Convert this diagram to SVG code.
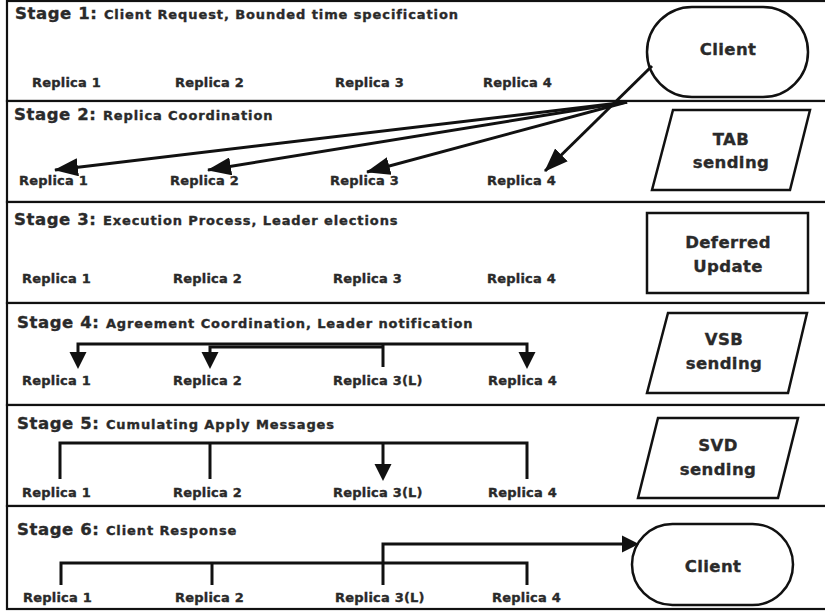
<svg xmlns="http://www.w3.org/2000/svg" width="825" height="612" viewBox="0 0 825 612">
  <style>
    .stage { fill: #ffffff; stroke: #111111; stroke-width: 2.2; }
    .shape { fill: #ffffff; stroke: #111111; stroke-width: 2.5; }
    .wire { fill: none; stroke: #111111; stroke-width: 3; }
    .head { fill: #111111; }
    text { font-family: "DejaVu Sans", "Liberation Sans", sans-serif; font-weight: bold; fill: #2a2a2a; stroke: #2a2a2a; stroke-width: 0.35px; }
    .st { font-size: 16.5px; letter-spacing: 0.6px; }
    .sub { font-size: 13px; letter-spacing: 0.9px; }
    .rep { font-size: 13px; letter-spacing: 0.2px; }
    .lbl { font-size: 16.5px; text-anchor: middle; letter-spacing: 0.4px; }
  </style>
  <defs>
    <marker id="arr" viewBox="0 0 24 18" refX="23" refY="9" markerWidth="24" markerHeight="18" markerUnits="userSpaceOnUse" orient="auto">
      <path d="M0,0 L24,9 L0,18 z" fill="#111111"/>
    </marker>
    <path id="down" d="M-8.5,-17 L8.5,-17 L0,0 z"/>
    <path id="right" d="M-17,-8.5 L0,0 L-17,8.5 z"/>
  </defs>

  <!-- stage bands -->
  <g id="stage1">
    <rect class="stage" x="7" y="1" width="830" height="100"/>
    <text x="15" y="19"><tspan class="st">Stage 1: </tspan><tspan class="sub">Client Request, Bounded time specification</tspan></text>
    <text class="rep" x="32" y="87">Replica 1</text>
    <text class="rep" x="175" y="87">Replica 2</text>
    <text class="rep" x="335" y="87">Replica 3</text>
    <text class="rep" x="483" y="87">Replica 4</text>
  </g>
  <g id="stage2">
    <rect class="stage" x="7" y="101" width="830" height="101"/>
    <text x="14" y="120"><tspan class="st">Stage 2: </tspan><tspan class="sub">Replica Coordination</tspan></text>
    <text class="rep" x="19" y="185">Replica 1</text>
    <text class="rep" x="170" y="185">Replica 2</text>
    <text class="rep" x="330" y="185">Replica 3</text>
    <text class="rep" x="487" y="185">Replica 4</text>
  </g>
  <g id="stage3">
    <rect class="stage" x="7" y="202" width="830" height="101"/>
    <text x="14" y="225"><tspan class="st">Stage 3: </tspan><tspan class="sub">Execution Process, Leader elections</tspan></text>
    <text class="rep" x="22" y="283">Replica 1</text>
    <text class="rep" x="173" y="283">Replica 2</text>
    <text class="rep" x="333" y="283">Replica 3</text>
    <text class="rep" x="487" y="283">Replica 4</text>
  </g>
  <g id="stage4">
    <rect class="stage" x="7" y="303" width="830" height="102"/>
    <text x="17" y="328"><tspan class="st">Stage 4: </tspan><tspan class="sub">Agreement Coordination, Leader notification</tspan></text>
    <text class="rep" x="22" y="385">Replica 1</text>
    <text class="rep" x="173" y="385">Replica 2</text>
    <text class="rep" x="333" y="385">Replica 3(L)</text>
    <text class="rep" x="488" y="385">Replica 4</text>
  </g>
  <g id="stage5">
    <rect class="stage" x="7" y="405" width="830" height="101"/>
    <text x="17" y="429"><tspan class="st">Stage 5: </tspan><tspan class="sub">Cumulating Apply Messages</tspan></text>
    <text class="rep" x="22" y="497">Replica 1</text>
    <text class="rep" x="173" y="497">Replica 2</text>
    <text class="rep" x="333" y="497">Replica 3(L)</text>
    <text class="rep" x="488" y="497">Replica 4</text>
  </g>
  <g id="stage6">
    <rect class="stage" x="7" y="506" width="830" height="103"/>
    <text x="17" y="535"><tspan class="st">Stage 6: </tspan><tspan class="sub">Client Response</tspan></text>
    <text class="rep" x="23" y="602">Replica 1</text>
    <text class="rep" x="175" y="602">Replica 2</text>
    <text class="rep" x="335" y="602">Replica 3(L)</text>
    <text class="rep" x="492" y="602">Replica 4</text>
  </g>

  <!-- process symbols on the right -->
  <g id="client-top">
    <rect class="shape" x="647" y="7" width="161" height="90" rx="45" ry="45"/>
    <text class="lbl" x="728" y="55">Client</text>
  </g>
  <g id="tab-sending">
    <polygon class="shape" points="673,110 810,110 790,190 652,190"/>
    <text class="lbl" x="731" y="145">TAB</text>
    <text class="lbl" x="731" y="168">sending</text>
  </g>
  <g id="deferred-update">
    <rect class="shape" x="647" y="213" width="161" height="80"/>
    <text class="lbl" x="728" y="248">Deferred</text>
    <text class="lbl" x="728" y="272">Update</text>
  </g>
  <g id="vsb-sending">
    <polygon class="shape" points="668,313 807,313 788,393 647,393"/>
    <text class="lbl" x="724" y="345">VSB</text>
    <text class="lbl" x="724" y="369">sending</text>
  </g>
  <g id="svd-sending">
    <polygon class="shape" points="658,418 798,418 778,498 638,498"/>
    <text class="lbl" x="718" y="451">SVD</text>
    <text class="lbl" x="718" y="475">sending</text>
  </g>
  <g id="client-bottom">
    <rect class="shape" x="632" y="524" width="161" height="81" rx="40.5" ry="40.5"/>
    <text class="lbl" x="713" y="572">Client</text>
  </g>

  <!-- message flows -->
  <g id="connectors">
    <!-- stage 2: broadcast from the client -->
    <line class="wire" x1="627" y1="102" x2="55" y2="170" marker-end="url(#arr)"/>
    <line class="wire" x1="627" y1="102" x2="208" y2="170" marker-end="url(#arr)"/>
    <line class="wire" x1="627" y1="102" x2="367" y2="172" marker-end="url(#arr)"/>
    <line class="wire" x1="652" y1="66" x2="545" y2="171" marker-end="url(#arr)"/>

    <!-- stage 4: leader notifies the others -->
    <path class="wire" d="M78,352 V344 H527 V352"/>
    <path class="wire" d="M210,352 V347 H383"/>
    <path class="wire" d="M383,344 V367"/>
    <use href="#down" class="head" x="78" y="369"/>
    <use href="#down" class="head" x="210" y="369"/>
    <use href="#down" class="head" x="527" y="369"/>

    <!-- stage 5: apply messages collected at the leader -->
    <path class="wire" d="M60,479 V443 H527 V479"/>
    <path class="wire" d="M210,443 V479"/>
    <path class="wire" d="M383,443 V465"/>
    <use href="#down" class="head" x="383" y="481"/>

    <!-- stage 6: response to the client -->
    <path class="wire" d="M61,585 V563 H527 V585"/>
    <path class="wire" d="M212,563 V585"/>
    <path class="wire" d="M383,585 V544 H624"/>
    <use href="#right" class="head" x="639" y="544"/>
  </g>
</svg>
